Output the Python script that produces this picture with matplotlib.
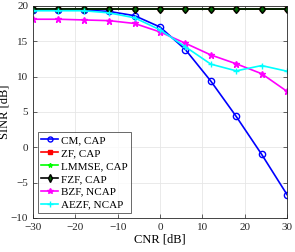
import matplotlib
matplotlib.use("Agg")
import matplotlib.pyplot as plt

plt.rcParams['font.family'] = ['Liberation Serif', 'DejaVu Serif']
plt.rcParams['mathtext.fontset'] = 'stix'

cnr = [-30, -24, -18, -12, -6, 0, 6, 12, 18, 24, 30]
cm_cap = [19.4, 19.4, 19.4, 19.2, 18.6, 17.0, 13.8, 9.35, 4.35, -1.0, -6.7]
zf_cap = [19.5, 19.5, 19.5, 19.5, 19.5, 19.5, 19.5, 19.5, 19.5, 19.5, 19.5]
lmmse_cap = [19.6, 19.6, 19.6, 19.6, 19.6, 19.6, 19.6, 19.6, 19.6, 19.6, 19.6]
fzf_cap = [19.5, 19.5, 19.5, 19.5, 19.5, 19.5, 19.5, 19.5, 19.5, 19.5, 19.5]
bzf_ncap = [18.1, 18.1, 18.0, 17.9, 17.5, 16.3, 14.7, 13.05, 11.8, 10.4, 7.9]
aezf_ncap = [19.3, 19.3, 19.3, 19.0, 18.3, 16.6, 14.2, 11.75, 10.8, 11.55, 10.75]

labels = ['CM, CAP', 'ZF, CAP', 'LMMSE, CAP', 'FZF, CAP', 'BZF, NCAP', 'AEZF, NCAP']
xticks = [-30, -20, -10, 0, 10, 20, 30]
yticks = [-10, -5, 0, 5, 10, 15, 20]

fig = plt.figure(figsize=(2.95, 2.52), dpi=100)
ax = fig.add_axes([0.112, 0.135, 0.861, 0.842])

lw = 1.2
ax.plot(cnr, cm_cap, color='#0000ff', marker='o', mfc='none', ms=4.5, mew=1.0, lw=lw, label=labels[0])
ax.plot(cnr, zf_cap, color='#ff0000', marker='s', ms=3.5, lw=lw, label=labels[1])
ax.plot(cnr, lmmse_cap, color='#00ff00', marker='*', ms=4, lw=lw, label=labels[2])
ax.plot(cnr, fzf_cap, color='#000000', marker='d', ms=4.5, mfc='#006400', mew=1.0, lw=lw, label=labels[3])
ax.plot(cnr, bzf_ncap, color='#ff00ff', marker='*', ms=5, lw=lw, label=labels[4])
ax.plot(cnr, aezf_ncap, color='#00ffff', marker='+', ms=5, mew=1.0, lw=lw, label=labels[5])

ax.set_xlim(-30, 30)
ax.set_ylim(-10, 20)
ax.set_xticks(xticks)
ax.set_yticks(yticks)
ax.grid(True, color='#e6e6e6', lw=0.6)
ax.set_axisbelow(True)
ax.tick_params(direction='in', length=3, width=0.5, labelsize=8, colors='#262626', top=True, right=True)
for s in ax.spines.values():
    s.set_color('#262626')
    s.set_linewidth(0.6)
ax.set_xlabel('CNR [dB]', fontsize=9, labelpad=1)
ax.set_ylabel('SINR [dB]', fontsize=9, labelpad=0)

leg = ax.legend(loc='lower left', fontsize=8, frameon=True, fancybox=False,
                edgecolor='#262626', handlelength=1.5, handletextpad=0.3,
                labelspacing=0.28, borderpad=0.3, borderaxespad=0.45,
                markerscale=0.8)
leg.get_frame().set_linewidth(0.6)

fig.savefig('out.png', dpi=100)
